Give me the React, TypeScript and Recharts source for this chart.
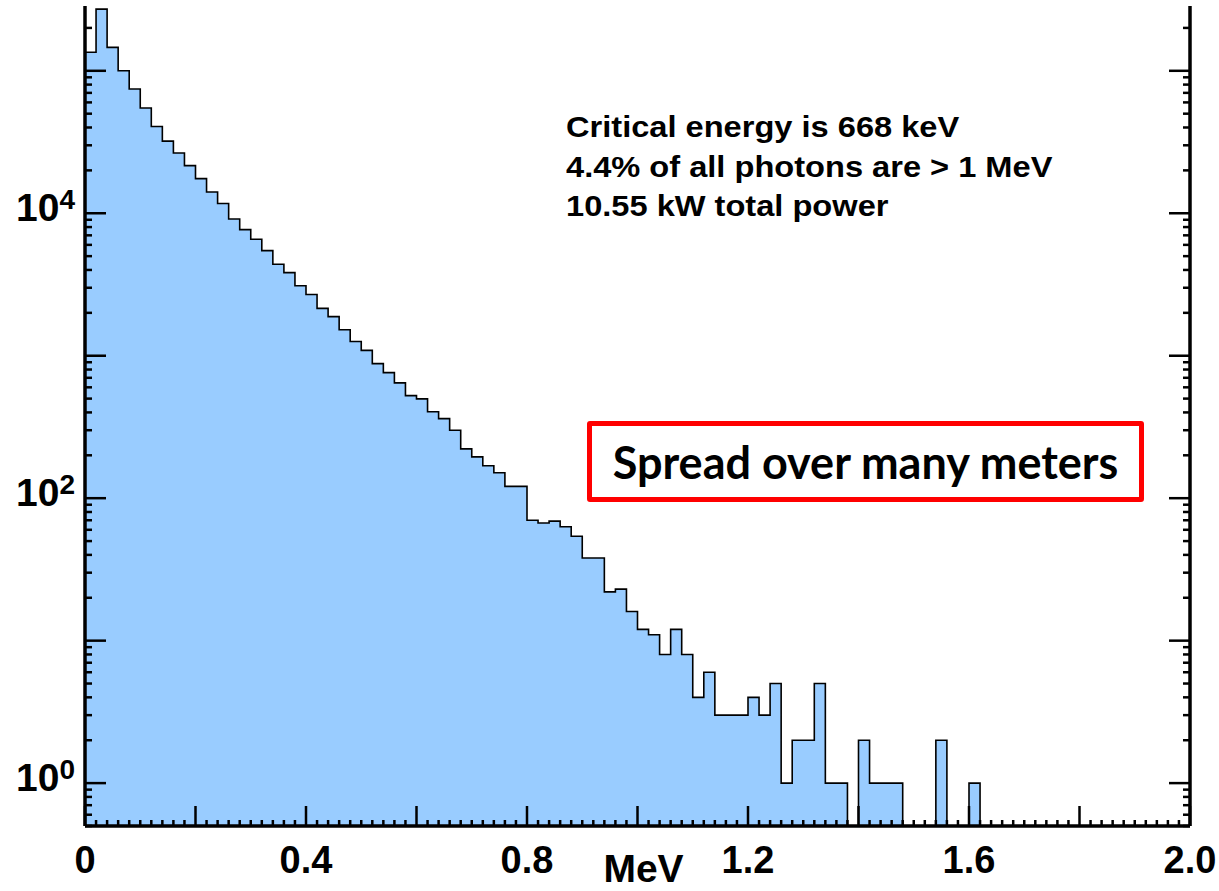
import React from 'react';
import { ComposedChart, Area, XAxis, YAxis } from 'recharts';

// photon counts per 0.02 MeV bin, starting at 0 MeV
const binWidth = 0.02;
const counts = [
  135000, 271000, 146000, 100000, 74500, 54800, 40600, 32100, 26500, 21600,
  17500, 14100, 11700, 9120, 7670, 6570, 5470, 4390, 3830, 3100,
  2690, 2150, 1880, 1520, 1260, 1090, 880, 761, 645, 525,
  498, 404, 362, 300, 222, 195, 169, 151, 121, 121,
  70, 67, 69, 63, 54, 38, 38, 22, 23, 16,
  12, 11, 8, 12, 8, 4, 6, 3, 3, 3,
  4, 3, 5, 1, 2, 2, 5, 1, 1, 0,
  2, 1, 1, 1, 0, 0, 0, 2, 0, 0,
  1, 0, 0, 0, 0, 0, 0, 0, 0, 0,
  0, 0, 0, 0, 0, 0, 0, 0, 0, 0,
];

const xLabels = ['0', '0.4', '0.8', '1.2', '1.6', '2.0'];
const yLabelPowers = [0, 2, 4];
const infoLines = [
  'Critical energy is 668 keV',
  '4.4% of all photons are > 1 MeV',
  '10.55 kW total power',
];
const boxText = 'Spread over many meters';

const Y_MIN = 0.5;
const Y_MAX = 285000;
const X_MAX = 2;

const FONT = "'Liberation Sans', Arial, sans-serif";

// step chart rows: one point per bin edge, empty bins sit on the floor of the log axis
const rows = counts.map((c, i) => ({ e: Math.round(i * binWidth * 100) / 100, count: Math.max(c, Y_MIN) }));
rows.push({ e: X_MAX, count: Math.max(counts[counts.length - 1], Y_MIN) });

const xTicks: number[] = [];
for (let i = 0; i <= 100; i++) xTicks.push(Math.round(i * 2) / 100);

const yTicks: number[] = [];
for (let k = -1; k <= 5; k++) {
  for (let m = 1; m <= 9; m++) {
    const v = m * Math.pow(10, k);
    if (v >= Y_MIN && v <= Y_MAX) yTicks.push(Number(v.toPrecision(3)));
  }
}

const hundredths = (v: number) => Math.round(v * 100);
const isDecade = (v: number) => Math.abs(Math.log10(v) - Math.round(Math.log10(v))) < 1e-6;

function BottomTick(props: any) {
  const { x, y, payload } = props;
  const h = hundredths(payload.value);
  const major = h % 20 === 0;
  const label = h % 40 === 0 ? xLabels[h / 40] : null;
  return (
    <g>
      <line x1={x} y1={y} x2={x} y2={y - (major ? 20 : 6)} stroke="#000" strokeWidth={2.5} />
      {label !== null && (
        <text x={x} y={y + 47} textAnchor="middle" fontSize={38} fontWeight="bold" fontFamily={FONT} fill="#000">
          {label}
        </text>
      )}
    </g>
  );
}

function TopTick(props: any) {
  const { x, y, payload } = props;
  const major = hundredths(payload.value) % 20 === 0;
  return <line x1={x} y1={y} x2={x} y2={y + (major ? 20 : 6)} stroke="#000" strokeWidth={2.5} />;
}

function LeftTick(props: any) {
  const { x, y, payload } = props;
  const v = payload.value;
  const major = isDecade(v);
  const p = Math.round(Math.log10(v));
  const showLabel = major && yLabelPowers.includes(p);
  return (
    <g>
      <line x1={x} y1={y} x2={x + (major ? 21 : 7)} y2={y} stroke="#000" strokeWidth={2.5} />
      {showLabel && (
        <text x={x - 10} y={y + 7.5} textAnchor="end" fontSize={39} fontWeight="bold" fontFamily={FONT} fill="#000">
          <tspan>10</tspan>
          <tspan dy={-12} fontSize={28}>{p}</tspan>
        </text>
      )}
    </g>
  );
}

function RightTick(props: any) {
  const { x, y, payload } = props;
  const major = isDecade(payload.value);
  return <line x1={x} y1={y} x2={x - (major ? 21 : 7)} y2={y} stroke="#000" strokeWidth={2.5} />;
}

const frame = { stroke: '#000', strokeWidth: 3.5 };

export default function App() {
  return (
    <div style={{ position: 'absolute', left: 0, top: 0, width: 1219, height: 891, background: '#fff' }}>
      <ComposedChart width={1219} height={891} data={rows} margin={{ top: 6, right: 0, bottom: 0, left: 0 }}>
        <Area
          xAxisId="bottom"
          yAxisId="left"
          dataKey="count"
          type="stepAfter"
          fill="#99ccff"
          fillOpacity={1}
          stroke="#000"
          strokeWidth={1.6}
          isAnimationActive={false}
        />
        <XAxis
          xAxisId="bottom"
          dataKey="e"
          type="number"
          domain={[0, X_MAX]}
          ticks={xTicks}
          interval={0}
          height={65}
          tickSize={0}
          tickMargin={0}
          tick={BottomTick}
          axisLine={frame}
          allowDataOverflow
          label={{ value: 'MeV', position: 'insideBottom', offset: 9, dx: 6, style: { fontSize: 39, fontWeight: 'bold', fontFamily: FONT, fill: '#000' } }}
        />
        <XAxis
          xAxisId="top"
          orientation="top"
          type="number"
          domain={[0, X_MAX]}
          ticks={xTicks}
          interval={0}
          height={0}
          tickSize={0}
          tickMargin={0}
          tick={TopTick}
          axisLine={frame}
          allowDataOverflow
        />
        <YAxis
          yAxisId="left"
          scale="log"
          type="number"
          domain={[Y_MIN, Y_MAX]}
          ticks={yTicks}
          interval={0}
          width={85}
          tickSize={0}
          tickMargin={0}
          tick={LeftTick}
          axisLine={frame}
          allowDataOverflow
        />
        <YAxis
          yAxisId="right"
          orientation="right"
          scale="log"
          type="number"
          domain={[Y_MIN, Y_MAX]}
          ticks={yTicks}
          interval={0}
          width={29}
          tickSize={0}
          tickMargin={0}
          tick={RightTick}
          axisLine={frame}
          allowDataOverflow
        />
      </ComposedChart>

      <div
        style={{
          position: 'absolute',
          left: 566,
          top: 107,
          fontFamily: FONT,
          fontWeight: 'bold',
          fontSize: 29.5,
          lineHeight: '39.5px',
          color: '#000',
          whiteSpace: 'nowrap',
          transform: 'scaleX(1.105)',
          transformOrigin: 'left top',
        }}
      >
        {infoLines.map((t) => (
          <div key={t}>{t}</div>
        ))}
      </div>

      <div
        style={{
          position: 'absolute',
          left: 587,
          top: 421,
          width: 557,
          height: 81,
          boxSizing: 'border-box',
          border: '5px solid #ff0000',
          borderRadius: 3,
          background: '#fff',
          display: 'flex',
          alignItems: 'center',
          justifyContent: 'center',
          fontFamily: 'Lato, sans-serif',
          fontWeight: 700,
          fontSize: 45,
          color: '#000',
          whiteSpace: 'nowrap',
        }}
      >
        {boxText}
      </div>
    </div>
  );
}
